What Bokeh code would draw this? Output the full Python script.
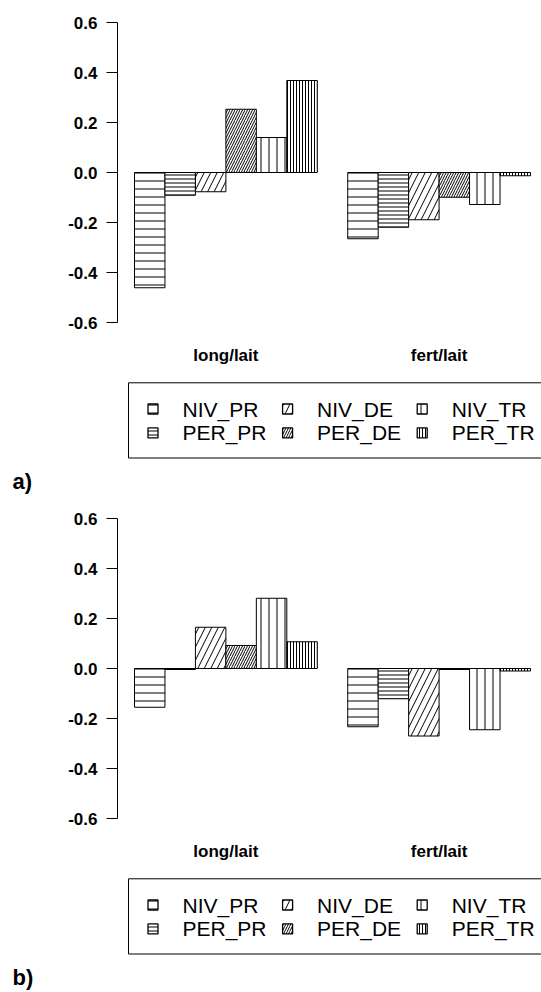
from bokeh.plotting import figure
from bokeh.layouts import column
from bokeh.models import FixedTicker, Title, Range1d
from bokeh.core.properties import value
from bokeh.embed import file_html
from bokeh.resources import INLINE

# ---------------- data ----------------
categories = ["long/lait", "fert/lait"]
series = ["NIV_PR", "PER_PR", "NIV_DE", "PER_DE", "NIV_TR", "PER_TR"]
panel_labels = ["a)", "b)"]

# panel a)  values for [long/lait, fert/lait]
a_NIV_PR = [-0.461, -0.265]
a_PER_PR = [-0.091, -0.219]
a_NIV_DE = [-0.077, -0.189]
a_PER_DE = [0.253, -0.099]
a_NIV_TR = [0.140, -0.128]
a_PER_TR = [0.368, -0.013]

# panel b)
b_NIV_PR = [-0.155, -0.233]
b_PER_PR = [-0.004, -0.121]
b_NIV_DE = [0.165, -0.270]
b_PER_DE = [0.092, -0.004]
b_NIV_TR = [0.281, -0.245]
b_PER_TR = [0.107, -0.010]

y_ticks = [-0.6, -0.4, -0.2, 0.0, 0.2, 0.4, 0.6]
y_tick_labels = ["-0.6", "-0.4", "-0.2", "0.0", "0.2", "0.4", "0.6"]

panel_a = [a_NIV_PR, a_PER_PR, a_NIV_DE, a_PER_DE, a_NIV_TR, a_PER_TR]
panel_b = [b_NIV_PR, b_PER_PR, b_NIV_DE, b_PER_DE, b_NIV_TR, b_PER_TR]

# ---------------- styles ----------------
hatch_styles = {
    "NIV_PR": ("horizontal_line", 8),
    "PER_PR": ("horizontal_line", 4),
    "NIV_DE": ("right_diagonal_line", 13),
    "PER_DE": ("right_diagonal_line", 5),
    "NIV_TR": ("vertical_line", 8),
    "PER_TR": ("vertical_line", 3),
}

FONT = "Liberation Sans"
W = 541
LEFT = 117           # frame left edge (px)
FRAME_W = W - LEFT
FRAME_H = 466
BOTTOM = 30          # strip below frame for the panel tag
PX_X = 30.46         # px per bar width
PX_Y = 250.0         # px per y unit
TOP_PAD = 22         # px from figure top to the 0.6 tick

x_start = 1 - (134 - LEFT) / PX_X
x_end = x_start + FRAME_W / PX_X
y_end = 0.6 + TOP_PAD / PX_Y
y_start = y_end - FRAME_H / PX_Y


def px_x(px):
    return x_start + (px - LEFT) / PX_X


def below0(px):
    return -px / PX_Y


def make_panel(values, tag):
    p = figure(frame_width=FRAME_W, frame_height=FRAME_H,
               x_range=Range1d(x_start, x_end),
               y_range=Range1d(y_start, y_end), output_backend="svg",
               toolbar_location=None, x_axis_location=None,
               min_border_left=LEFT, min_border_right=0, min_border_top=0,
               min_border_bottom=BOTTOM)
    p.outline_line_color = None
    p.grid.grid_line_color = None
    p.background_fill_color = "white"
    p.border_fill_color = "white"

    n = len(series)
    for i, (name, vals) in enumerate(zip(series, values)):
        xs = [1 + g * (n + 1) + i + 0.5 for g in range(len(categories))]
        pat, sc = hatch_styles[name]
        p.vbar(x=xs, top=vals, bottom=0, width=1, fill_color="white",
               line_color="black", line_width=1, hatch_pattern=pat,
               hatch_scale=sc, hatch_color="black", hatch_weight=1)

    # y axis
    ax = p.yaxis[0]
    ax.ticker = FixedTicker(ticks=y_ticks)
    ax.major_label_overrides = dict(zip(y_ticks, y_tick_labels))
    ax.bounds = (-0.6, 0.6)
    ax.major_tick_out = 11
    ax.major_tick_in = 0
    ax.minor_tick_out = 0
    ax.minor_tick_in = 0
    ax.major_label_standoff = 9
    ax.major_label_text_font = FONT
    ax.major_label_text_font_style = "bold"
    ax.major_label_text_font_size = "17px"
    ax.major_label_text_color = "black"
    ax.axis_line_color = "black"
    ax.major_tick_line_color = "black"

    # category labels
    cx = [1 + g * (n + 1) + n / 2 for g in range(len(categories))]
    p.text(x=cx, y=[below0(183)] * len(cx), text=categories,
           text_font=value(FONT), text_font_style="bold",
           text_font_size="17px", text_align="center",
           text_baseline="middle", text_color="black")

    # legend box
    p.quad(left=[px_x(128)], right=[px_x(600)], top=[below0(210.3)],
           bottom=[below0(285.5)], fill_color=None, line_color="black",
           line_width=1)
    row_y = [below0(236.5), below0(260.4)]
    for i, name in enumerate(series):
        col, row = i // 2, i % 2
        sym_px = 152.5 + col * 134.6
        pat, sc = hatch_styles[name]
        p.rect(x=[px_x(sym_px)], y=[row_y[row]], width=10, height=10,
               width_units="screen", height_units="screen",
               fill_color="white", line_color="black", line_width=1.3,
               hatch_pattern=pat, hatch_scale=sc, hatch_color="black",
               hatch_weight=1)
        p.text(x=[px_x(sym_px + 29.5)], y=[row_y[row]], text=[name],
               text_font=value(FONT), text_font_size="21px",
               text_align="left", text_baseline="middle",
               text_color="black")

    p.add_layout(Title(text=tag, align="left", offset=12 - LEFT,
                       text_font=FONT, text_font_style="bold",
                       text_font_size="22px", vertical_align="bottom",
                       standoff=0, text_color="black"), "below")
    return p


p1 = make_panel(panel_a, panel_labels[0])
p2 = make_panel(panel_b, panel_labels[1])
layout = column(p1, p2, spacing=0)

open("out.html", "w").write(file_html(layout, INLINE))
